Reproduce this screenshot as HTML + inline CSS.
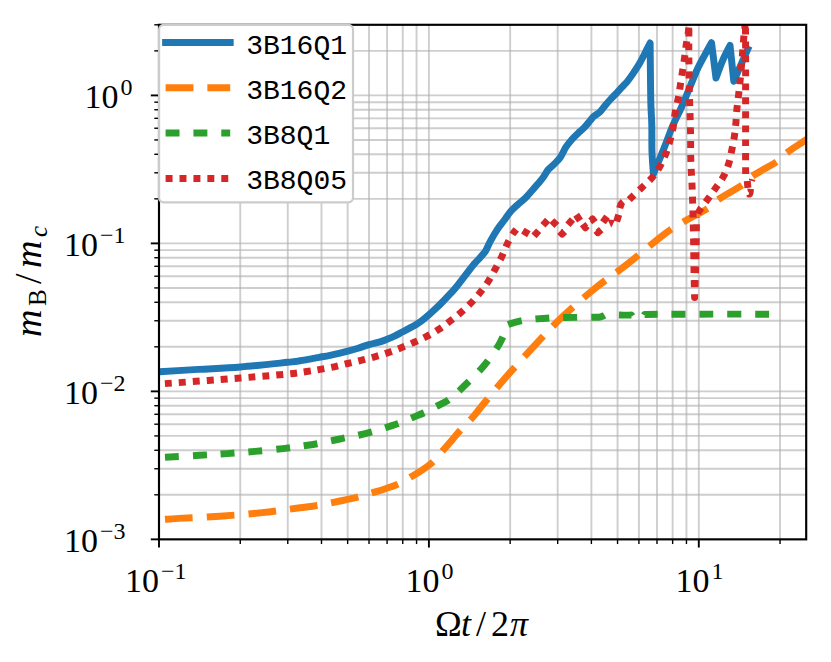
<!DOCTYPE html><html><head><meta charset="utf-8"><title>plot</title>
<style>html,body{margin:0;padding:0;background:#fff;}svg{display:block;}</style></head><body>
<svg width="831" height="662" viewBox="0 0 831 662">
<title>m_B/m_c versus Omega t / 2 pi (log-log): 3B16Q1, 3B16Q2, 3B8Q1, 3B8Q05</title>
<rect width="831" height="662" fill="#fff"/>
<defs><clipPath id="ax"><rect x="159.0" y="24.8" width="647.2" height="514.5500000000001"/></clipPath></defs>
<g clip-path="url(#ax)" stroke="rgba(176,176,176,0.62)" stroke-width="1.9" fill="none">
<path d="M428.90,24.8V539.35"/>
<path d="M698.80,24.8V539.35"/>
<path d="M240.25,24.8V539.35"/>
<path d="M287.77,24.8V539.35"/>
<path d="M321.49,24.8V539.35"/>
<path d="M347.65,24.8V539.35"/>
<path d="M369.02,24.8V539.35"/>
<path d="M387.09,24.8V539.35"/>
<path d="M402.74,24.8V539.35"/>
<path d="M416.55,24.8V539.35"/>
<path d="M510.15,24.8V539.35"/>
<path d="M557.67,24.8V539.35"/>
<path d="M591.39,24.8V539.35"/>
<path d="M617.55,24.8V539.35"/>
<path d="M638.92,24.8V539.35"/>
<path d="M656.99,24.8V539.35"/>
<path d="M672.64,24.8V539.35"/>
<path d="M686.45,24.8V539.35"/>
<path d="M780.04,24.8V539.35"/>
<path d="M159.0,391.37H806.2"/>
<path d="M159.0,243.39H806.2"/>
<path d="M159.0,95.41H806.2"/>
<path d="M159.0,494.80H806.2"/>
<path d="M159.0,468.74H806.2"/>
<path d="M159.0,450.26H806.2"/>
<path d="M159.0,435.92H806.2"/>
<path d="M159.0,424.20H806.2"/>
<path d="M159.0,414.29H806.2"/>
<path d="M159.0,405.71H806.2"/>
<path d="M159.0,398.14H806.2"/>
<path d="M159.0,346.82H806.2"/>
<path d="M159.0,320.76H806.2"/>
<path d="M159.0,302.27H806.2"/>
<path d="M159.0,287.93H806.2"/>
<path d="M159.0,276.22H806.2"/>
<path d="M159.0,266.31H806.2"/>
<path d="M159.0,257.73H806.2"/>
<path d="M159.0,250.16H806.2"/>
<path d="M159.0,198.84H806.2"/>
<path d="M159.0,172.78H806.2"/>
<path d="M159.0,154.29H806.2"/>
<path d="M159.0,139.95H806.2"/>
<path d="M159.0,128.23H806.2"/>
<path d="M159.0,118.33H806.2"/>
<path d="M159.0,109.75H806.2"/>
<path d="M159.0,102.18H806.2"/>
<path d="M159.0,50.86H806.2"/>
</g>
<g clip-path="url(#ax)" fill="none" stroke-linejoin="round">
<path d="M150.00,372.30C151.62,372.20 151.65,372.18 159.70,371.70C167.75,371.22 184.82,370.18 198.30,369.40C211.78,368.62 225.70,368.18 240.60,367.00C255.50,365.82 277.80,363.33 287.70,362.30C297.60,361.27 294.73,361.63 300.00,360.80C305.27,359.97 314.30,358.22 319.30,357.30C324.30,356.38 326.55,355.98 330.00,355.30C333.45,354.62 337.02,353.88 340.00,353.20C342.98,352.52 344.88,352.03 347.90,351.20C350.92,350.37 354.58,349.30 358.10,348.20C361.62,347.10 365.35,345.67 369.00,344.60C372.65,343.53 377.00,342.68 380.00,341.80C383.00,340.92 384.50,340.30 387.00,339.30C389.50,338.30 392.38,337.06 395.00,335.80C397.62,334.54 400.35,332.98 402.70,331.75C405.05,330.52 406.78,329.66 409.10,328.40C411.42,327.14 414.33,325.62 416.60,324.20C418.87,322.78 420.67,321.45 422.70,319.90C424.73,318.35 426.53,316.87 428.80,314.90C431.07,312.93 433.85,310.43 436.30,308.10C438.75,305.77 441.08,303.38 443.50,300.90C445.92,298.42 448.67,295.52 450.80,293.20C452.93,290.88 453.88,289.97 456.30,287.00C458.72,284.03 462.52,279.00 465.30,275.40C468.08,271.80 470.95,267.92 473.00,265.40C475.05,262.88 475.53,262.65 477.60,260.30C479.67,257.95 483.33,254.38 485.40,251.30C487.47,248.22 488.00,245.45 490.00,241.80C492.00,238.15 495.03,232.98 497.40,229.40C499.77,225.82 501.97,223.32 504.20,220.30C506.43,217.28 508.58,213.88 510.80,211.30C513.02,208.72 515.20,206.89 517.50,204.80C519.80,202.71 522.35,200.92 524.60,198.75C526.85,196.58 528.82,194.25 531.00,191.80C533.18,189.35 535.62,186.54 537.70,184.07C539.78,181.60 541.73,179.41 543.50,177.00C545.27,174.59 546.48,171.78 548.30,169.60C550.12,167.42 552.38,165.97 554.40,163.90C556.42,161.83 558.47,160.03 560.40,157.20C562.33,154.37 564.05,149.90 566.00,146.90C567.95,143.90 570.08,141.48 572.10,139.20C574.12,136.92 576.08,135.12 578.10,133.20C580.12,131.28 582.18,129.82 584.20,127.70C586.22,125.58 588.60,122.40 590.20,120.50C591.80,118.60 592.18,117.72 593.80,116.30C595.42,114.88 598.08,113.72 599.90,112.00C601.72,110.28 602.88,108.17 604.70,106.00C606.52,103.83 608.78,101.20 610.80,99.00C612.82,96.80 614.80,94.92 616.80,92.80C618.80,90.68 621.07,88.17 622.80,86.30C624.53,84.43 625.50,83.72 627.20,81.60C628.90,79.48 631.00,76.53 633.00,73.60C635.00,70.67 637.28,67.27 639.20,64.00C641.12,60.73 642.68,57.50 644.50,54.00C646.32,50.50 649.17,44.83 650.10,43.00L650.10,43.00C650.17,49.17 650.37,69.67 650.50,80.00C650.63,90.33 650.68,97.50 650.90,105.00C651.12,112.50 651.62,117.17 651.80,125.00C651.98,132.83 651.73,143.83 652.00,152.00C652.27,160.17 653.17,170.33 653.40,174.00L653.40,174.00C654.33,171.75 657.13,165.03 659.00,160.50C660.87,155.97 662.33,152.55 664.60,146.80C666.87,141.05 669.77,132.63 672.60,126.00C675.43,119.37 678.60,113.78 681.60,107.00C684.60,100.22 687.88,91.80 690.60,85.30C693.32,78.80 695.48,73.15 697.90,68.00C700.32,62.85 702.83,58.62 705.10,54.40C707.37,50.18 710.43,44.65 711.50,42.70L711.50,42.70L716.00,78.00L716.00,78.00C717.08,75.13 720.17,66.23 722.50,60.80C724.83,55.37 728.75,47.97 730.00,45.40L730.00,45.40L733.80,81.20L733.80,81.20L747.70,49.40" stroke="#1f77b4" stroke-width="6.96" stroke-linecap="square"/>
<path d="M165.00,519.30C167.33,519.15 169.83,518.92 179.00,518.40C188.17,517.88 206.12,517.17 220.00,516.20C233.88,515.23 248.97,514.00 262.30,512.60C275.63,511.20 290.83,508.98 300.00,507.80C309.17,506.62 312.17,506.30 317.30,505.50C322.43,504.70 324.05,504.38 330.80,503.00C337.55,501.62 351.00,498.87 357.80,497.20C364.60,495.53 367.12,494.37 371.60,493.00C376.08,491.63 380.27,490.48 384.70,489.00C389.13,487.52 394.03,486.00 398.20,484.10C402.37,482.20 405.85,479.83 409.70,477.60C413.55,475.37 417.45,473.30 421.30,470.70C425.15,468.10 429.27,465.28 432.80,462.00C436.33,458.72 439.28,454.67 442.50,451.00C445.72,447.33 449.22,443.37 452.10,440.00C454.98,436.63 456.40,434.55 459.80,430.80C463.20,427.05 468.77,421.72 472.50,417.50C476.23,413.28 476.75,412.08 482.20,405.50C487.65,398.92 496.63,387.82 505.20,378.00C513.77,368.18 524.12,356.75 533.60,346.60C543.08,336.45 551.92,326.77 562.10,317.10C572.28,307.43 583.75,297.48 594.70,288.60C605.65,279.72 616.42,272.70 627.80,263.80C639.18,254.90 653.75,242.17 663.00,235.20C672.25,228.23 675.90,226.43 683.30,222.00C690.70,217.57 701.53,212.37 707.40,208.60C713.27,204.83 712.68,203.35 718.50,199.40C724.32,195.45 736.62,188.80 742.30,184.90C747.98,181.00 746.83,179.90 752.60,176.00C758.37,172.10 771.17,165.40 776.90,161.50C782.63,157.60 782.15,156.20 787.00,152.60C791.85,149.00 801.33,143.08 806.00,139.90C810.67,136.72 813.50,134.57 815.00,133.50" stroke="#ff7f0e" stroke-width="6.96" stroke-dasharray="27.84 13.92" stroke-dashoffset="0"/>
<path d="M165.00,457.20C170.75,456.88 189.12,455.90 199.50,455.30C209.88,454.70 218.05,454.25 227.30,453.60C236.55,452.95 245.73,452.23 255.00,451.40C264.27,450.57 274.75,449.53 282.90,448.60C291.05,447.67 298.17,446.62 303.90,445.80C309.63,444.98 312.82,444.50 317.30,443.70C321.78,442.90 326.23,441.97 330.80,441.00C335.37,440.03 340.15,438.85 344.70,437.90C349.25,436.95 353.52,436.32 358.10,435.30C362.68,434.28 367.77,433.03 372.20,431.80C376.63,430.57 380.30,429.28 384.70,427.90C389.10,426.52 394.27,425.10 398.60,423.50C402.93,421.90 406.28,420.17 410.70,418.30C415.12,416.43 420.93,414.23 425.10,412.30C429.27,410.37 431.68,408.83 435.70,406.70C439.72,404.57 444.47,402.95 449.20,399.50C453.93,396.05 458.38,391.55 464.10,386.00C469.82,380.45 477.65,373.17 483.50,366.20C489.35,359.23 495.23,350.98 499.20,344.20C503.17,337.42 505.95,328.62 507.30,325.50L507.30,325.50C507.58,325.28 506.42,325.03 509.00,324.20C511.58,323.37 518.25,321.38 522.80,320.50C527.35,319.62 531.82,319.33 536.30,318.90C540.78,318.47 544.95,318.13 549.70,317.90C554.45,317.67 557.75,317.60 564.80,317.50C571.85,317.40 586.30,317.33 592.00,317.30C597.70,317.27 597.83,317.30 599.00,317.30L599.00,317.30C599.67,317.08 601.68,316.58 603.00,316.00C604.32,315.42 606.25,314.17 606.90,313.80L606.90,313.80L612.00,314.60" stroke="#2ca02c" stroke-width="6.96" stroke-dasharray="13.92 13.92" stroke-dashoffset="0"/>
<path d="M612.00,314.60C613.20,314.68 615.95,315.02 619.20,315.10C622.45,315.18 629.45,315.10 631.50,315.10L631.50,315.10L633.00,317.40L633.00,317.40L643.00,317.40L643.00,317.40L644.60,314.50L644.60,314.50C646.78,314.47 648.47,314.36 657.70,314.30C666.93,314.24 681.42,314.17 700.00,314.15C718.58,314.12 757.67,314.15 769.20,314.15" stroke="#2ca02c" stroke-width="6.96" stroke-dasharray="13.92 13.92" stroke-dashoffset="20.91"/>
<path d="M160.00,383.90C161.35,383.82 154.67,384.38 168.10,383.40C181.53,382.42 220.67,379.57 240.60,378.00C260.53,376.43 276.68,375.08 287.70,374.00C298.72,372.92 301.28,372.27 306.70,371.50C312.12,370.73 315.60,370.18 320.20,369.40C324.80,368.62 329.72,367.78 334.30,366.80C338.88,365.82 343.22,364.58 347.70,363.50C352.18,362.42 356.70,361.42 361.20,360.30C365.70,359.18 370.20,358.08 374.70,356.80C379.20,355.52 383.80,354.10 388.20,352.60C392.60,351.10 396.77,349.52 401.10,347.80C405.43,346.08 409.93,344.20 414.20,342.30C418.47,340.40 422.62,338.55 426.70,336.40C430.78,334.25 434.85,331.92 438.70,329.40C442.55,326.88 446.17,324.07 449.80,321.30C453.43,318.53 457.00,315.82 460.50,312.80C464.00,309.78 467.55,306.55 470.80,303.20C474.05,299.85 477.08,296.35 480.00,292.70C482.92,289.05 485.77,285.23 488.30,281.30C490.83,277.37 492.98,273.17 495.20,269.10C497.42,265.03 499.63,261.02 501.60,256.90C503.57,252.78 505.30,247.98 507.00,244.40C508.70,240.82 510.62,237.43 511.80,235.40C512.98,233.37 513.32,233.18 514.07,232.20C514.82,231.22 515.93,229.95 516.30,229.50" stroke="#d62728" stroke-width="6.96" stroke-dasharray="6.96 6.96" stroke-dashoffset="7.87"/>
<path d="M522.87,230.61L528.83,234.19" stroke="#d62728" stroke-width="6.96"/>
<path d="M533.97,235.89L538.63,230.71" stroke="#d62728" stroke-width="6.96"/>
<path d="M542.97,225.29L547.63,220.11" stroke="#d62728" stroke-width="6.96"/>
<path d="M551.94,220.64L556.86,225.56" stroke="#d62728" stroke-width="6.96"/>
<path d="M559.63,231.53L562.10,234.00L564.57,231.53" stroke="#d62728" stroke-width="6.96"/>
<path d="M567.92,224.83L572.48,219.57" stroke="#d62728" stroke-width="6.96"/>
<path d="M575.21,219.65L580.99,215.75" stroke="#d62728" stroke-width="6.96"/>
<path d="M582.75,224.16L585.40,227.80L586.96,225.85" stroke="#d62728" stroke-width="6.96"/>
<path d="M590.94,220.95L592.50,219.00L594.90,222.20" stroke="#d62728" stroke-width="6.96"/>
<path d="M596.30,230.60L597.80,232.60L601.18,229.63" stroke="#d62728" stroke-width="6.96"/>
<path d="M602.95,222.22L607.05,216.58" stroke="#d62728" stroke-width="6.96"/>
<path d="M616.68,221.43L618.72,214.77" stroke="#d62728" stroke-width="6.96"/>
<path d="M747.30,180.93L747.90,187.87" stroke="#d62728" stroke-width="6.96"/>
<path d="M607.50,219.50L615.00,220.00L611.30,227.60Z" fill="#d62728" stroke="none"/>
<path d="M620.80,199.00L624.90,204.00L623.10,209.00L616.30,207.20L617.70,202.70Z" fill="#d62728" stroke="none"/>
<path d="M749.00,178.50L755.30,179.90L754.90,181.70L749.00,180.30Z" fill="#d62728" stroke="none"/>
<path d="M747.20,188.40L754.00,189.30L753.50,193.50L752.50,196.00L750.70,197.40L747.60,197.50L746.40,196.30L746.60,195.20L748.80,194.40L749.10,193.00L747.90,191.50Z" fill="#d62728" stroke="none"/>
<path d="M629.20,199.70C629.62,199.28 629.62,199.20 631.70,197.20C633.78,195.20 638.35,190.90 641.70,187.70C645.05,184.50 648.80,181.50 651.80,178.00C654.80,174.50 657.40,170.67 659.70,166.70C662.00,162.73 663.90,158.50 665.60,154.20C667.30,149.90 668.65,145.32 669.90,140.90C671.15,136.48 672.22,132.45 673.10,127.70C673.98,122.95 674.32,117.43 675.20,112.40C676.08,107.37 677.55,102.00 678.40,97.50C679.25,93.00 679.63,89.63 680.30,85.40C680.97,81.17 681.70,76.63 682.40,72.10C683.10,67.57 683.85,62.83 684.50,58.20C685.15,53.57 685.65,48.73 686.30,44.30C686.95,39.87 687.95,35.32 688.40,31.60C688.85,27.88 688.90,23.60 689.00,22.00" stroke="#d62728" stroke-width="6.96" stroke-dasharray="6.96 6.96" stroke-dashoffset="13.86"/>
<path d="M689.00,22.00C688.97,26.23 688.75,36.23 688.80,47.40C688.85,58.57 689.02,75.02 689.30,89.00C689.58,102.98 690.25,119.47 690.50,131.30C690.75,143.13 690.53,150.75 690.80,160.00C691.07,169.25 691.73,177.75 692.10,186.80C692.47,195.85 692.75,205.10 693.00,214.30C693.25,223.50 693.43,232.72 693.60,242.00C693.77,251.28 693.83,260.75 694.00,270.00C694.17,279.25 694.50,292.92 694.60,297.50L694.60,297.50C694.77,292.92 695.33,279.25 695.60,270.00C695.87,260.75 696.07,249.33 696.20,242.00C696.33,234.67 696.33,230.17 696.40,226.00C696.47,221.83 696.57,218.50 696.60,217.00" stroke="#d62728" stroke-width="6.96" stroke-dasharray="6.96 6.96" stroke-dashoffset="6.29"/>
<path d="M696.60,217.00C697.08,215.92 697.65,213.45 699.50,210.50C701.35,207.55 705.00,203.05 707.70,199.30C710.40,195.55 713.07,191.82 715.70,188.00C718.33,184.18 721.33,180.47 723.50,176.40C725.67,172.33 727.32,168.00 728.70,163.60C730.08,159.20 730.85,154.55 731.80,150.00C732.75,145.45 733.72,140.85 734.40,136.30C735.08,131.75 735.48,127.23 735.90,122.70C736.32,118.17 736.45,113.75 736.90,109.10C737.35,104.45 738.06,99.58 738.60,94.80C739.14,90.02 739.68,85.07 740.15,80.40C740.62,75.73 740.99,71.45 741.40,66.80C741.81,62.15 742.23,57.03 742.60,52.50C742.97,47.97 743.25,43.52 743.60,39.60C743.95,35.68 744.43,31.93 744.70,29.00C744.97,26.07 745.12,23.17 745.20,22.00" stroke="#d62728" stroke-width="6.96" stroke-dasharray="6.96 6.96" stroke-dashoffset="10.31"/>
<path d="M745.20,22.00C745.27,25.82 745.53,22.48 745.60,44.90C745.67,67.32 745.58,134.40 745.60,156.50C745.62,178.60 745.68,174.00 745.70,177.50" stroke="#d62728" stroke-width="6.96" stroke-dasharray="6.96 6.96" stroke-dashoffset="8.17"/>
</g>
<g stroke="#000" fill="none">
<path d="M159.00,539.35v8.2" stroke-width="1.9"/>
<path d="M428.90,539.35v8.2" stroke-width="1.9"/>
<path d="M698.80,539.35v8.2" stroke-width="1.9"/>
<path d="M240.25,539.35v4.7" stroke-width="1.4"/>
<path d="M287.77,539.35v4.7" stroke-width="1.4"/>
<path d="M321.49,539.35v4.7" stroke-width="1.4"/>
<path d="M347.65,539.35v4.7" stroke-width="1.4"/>
<path d="M369.02,539.35v4.7" stroke-width="1.4"/>
<path d="M387.09,539.35v4.7" stroke-width="1.4"/>
<path d="M402.74,539.35v4.7" stroke-width="1.4"/>
<path d="M416.55,539.35v4.7" stroke-width="1.4"/>
<path d="M510.15,539.35v4.7" stroke-width="1.4"/>
<path d="M557.67,539.35v4.7" stroke-width="1.4"/>
<path d="M591.39,539.35v4.7" stroke-width="1.4"/>
<path d="M617.55,539.35v4.7" stroke-width="1.4"/>
<path d="M638.92,539.35v4.7" stroke-width="1.4"/>
<path d="M656.99,539.35v4.7" stroke-width="1.4"/>
<path d="M672.64,539.35v4.7" stroke-width="1.4"/>
<path d="M686.45,539.35v4.7" stroke-width="1.4"/>
<path d="M780.04,539.35v4.7" stroke-width="1.4"/>
<path d="M159.0,539.35h-8.2" stroke-width="1.9"/>
<path d="M159.0,391.37h-8.2" stroke-width="1.9"/>
<path d="M159.0,243.39h-8.2" stroke-width="1.9"/>
<path d="M159.0,95.41h-8.2" stroke-width="1.9"/>
<path d="M159.0,494.80h-4.7" stroke-width="1.4"/>
<path d="M159.0,468.74h-4.7" stroke-width="1.4"/>
<path d="M159.0,450.26h-4.7" stroke-width="1.4"/>
<path d="M159.0,435.92h-4.7" stroke-width="1.4"/>
<path d="M159.0,424.20h-4.7" stroke-width="1.4"/>
<path d="M159.0,414.29h-4.7" stroke-width="1.4"/>
<path d="M159.0,405.71h-4.7" stroke-width="1.4"/>
<path d="M159.0,398.14h-4.7" stroke-width="1.4"/>
<path d="M159.0,346.82h-4.7" stroke-width="1.4"/>
<path d="M159.0,320.76h-4.7" stroke-width="1.4"/>
<path d="M159.0,302.27h-4.7" stroke-width="1.4"/>
<path d="M159.0,287.93h-4.7" stroke-width="1.4"/>
<path d="M159.0,276.22h-4.7" stroke-width="1.4"/>
<path d="M159.0,266.31h-4.7" stroke-width="1.4"/>
<path d="M159.0,257.73h-4.7" stroke-width="1.4"/>
<path d="M159.0,250.16h-4.7" stroke-width="1.4"/>
<path d="M159.0,198.84h-4.7" stroke-width="1.4"/>
<path d="M159.0,172.78h-4.7" stroke-width="1.4"/>
<path d="M159.0,154.29h-4.7" stroke-width="1.4"/>
<path d="M159.0,139.95h-4.7" stroke-width="1.4"/>
<path d="M159.0,128.23h-4.7" stroke-width="1.4"/>
<path d="M159.0,118.33h-4.7" stroke-width="1.4"/>
<path d="M159.0,109.75h-4.7" stroke-width="1.4"/>
<path d="M159.0,102.18h-4.7" stroke-width="1.4"/>
<path d="M159.0,50.86h-4.7" stroke-width="1.4"/>
<path d="M159.0,24.80h-4.7" stroke-width="1.4"/>
<rect x="159.0" y="24.8" width="647.2" height="514.5500000000001" stroke-width="2.15" stroke-linejoin="miter"/>
</g>
<rect x="159.1" y="24.9" width="193.9" height="177.4" rx="4.5" ry="4.5" fill="#fff" stroke="#cccccc" stroke-width="2.2"/>
<path d="M165.6,42.5H230.2" stroke="#1f77b4" stroke-width="6.96" stroke-linecap="square"/>
<path d="M165.6,87.8H230.2" stroke="#ff7f0e" stroke-width="6.96" stroke-dasharray="27.84 13.92"/>
<path d="M165.6,133.0H230.2" stroke="#2ca02c" stroke-width="6.96" stroke-dasharray="13.92 13.92"/>
<path d="M165.6,178.4H230.2" stroke="#d62728" stroke-width="6.96" stroke-dasharray="6.96 6.96"/>
<g font-family="'Liberation Mono', monospace" font-size="28" fill="#000">
<text x="246.2" y="53.9">3B16Q1</text>
<text x="246.2" y="98.9">3B16Q2</text>
<text x="246.2" y="144">3B8Q1</text>
<text x="246.2" y="189.1">3B8Q05</text>
</g>
<g font-family="'Liberation Serif', serif" font-size="34" fill="#000">
<text x="125" y="591.9">10<tspan dx="2" dy="-13" font-size="24">−1</tspan></text>
<text x="405.5" y="591.9">10<tspan dx="2" dy="-13" font-size="24">0</tspan></text>
<text x="675.5" y="591.9">10<tspan dx="2" dy="-13" font-size="24">1</tspan></text>
<text x="84.5" y="108.1">10<tspan dx="2" dy="-13" font-size="24">0</tspan></text>
<text x="64" y="256.1">10<tspan dx="2" dy="-13" font-size="24">−1</tspan></text>
<text x="64" y="404.1">10<tspan dx="2" dy="-13" font-size="24">−2</tspan></text>
<text x="64" y="552.1">10<tspan dx="2" dy="-13" font-size="24">−3</tspan></text>
</g>
<text y="635.7" font-family="'Liberation Serif', serif" font-size="36" fill="#000"><tspan x="435">Ω</tspan><tspan x="461" font-style="italic">t</tspan><tspan x="476">/</tspan><tspan x="491">2</tspan><tspan x="510" font-style="italic">π</tspan></text>
<text transform="translate(41.0,338.0) rotate(-90)" font-family="'Liberation Serif', serif" font-size="38" fill="#000"><tspan x="1" y="0" font-style="italic">m</tspan><tspan x="32" y="5.4" font-size="25">B</tspan><tspan x="54" y="0">/</tspan><tspan x="70" y="0" font-style="italic">m</tspan><tspan x="101" y="5.6" font-size="25" font-style="italic">c</tspan></text>
</svg></body></html>
